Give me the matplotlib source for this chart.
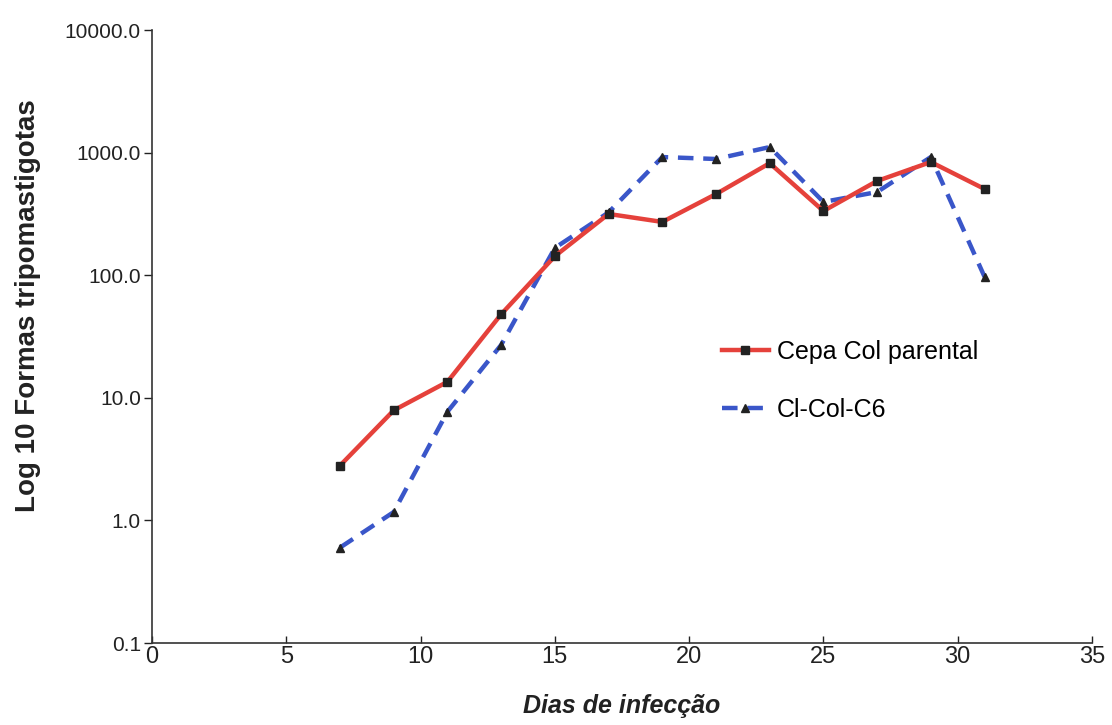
import matplotlib
matplotlib.use('Agg')
from matplotlib import pyplot as plt
from matplotlib.ticker import FixedLocator, FuncFormatter, NullLocator

dias = [7, 9, 11, 13, 15, 17, 19, 21, 23, 25, 27, 29, 31]
cepa_col = [2.8, 7.9, 13.5, 48, 143, 316, 272, 459, 820, 334, 587, 838, 505]
cl_col_c6 = [0.6, 1.17, 7.7, 27, 167, 325, 920, 887, 1110, 396, 477, 920, 97]

nomes = ['Cepa Col parental', 'Cl-Col-C6']
y_ticks = [0.1, 1, 10, 100, 1000, 10000]
x_ticks = [0, 5, 10, 15, 20, 25, 30, 35]

plt.rcParams['font.family'] = ['Liberation Sans', 'DejaVu Sans']

fig = plt.figure(figsize=(11.12, 7.25), dpi=100)
ax = fig.add_axes([0.1367, 0.1131, 0.8453, 0.8455])

ax.plot(dias, cepa_col, color='#e5413b', lw=3.2, marker='s', ms=5.5,
        mfc='#222222', mec='#222222', label=nomes[0], zorder=3)
ax.plot(dias, cl_col_c6, color='#3a56c9', lw=3.2, ls=(0, (3.5, 2.2)),
        marker='^', ms=6, mfc='#222222', mec='#222222', label=nomes[1], zorder=2)

ax.set_yscale('log')
ax.set_ylim(0.1, 10000)
ax.set_xlim(0, 35)
ax.yaxis.set_major_locator(FixedLocator(y_ticks))
ax.yaxis.set_minor_locator(NullLocator())
ax.yaxis.set_major_formatter(FuncFormatter(lambda v, p: '%.1f' % v))
ax.set_xticks(x_ticks)

for s in ['top', 'right']:
    ax.spines[s].set_visible(False)
for s in ['left', 'bottom']:
    ax.spines[s].set_color('#333333')
    ax.spines[s].set_linewidth(1.2)

ax.tick_params(axis='y', direction='out', length=6, width=1, labelsize=15,
               pad=2, colors='#222222')
ax.tick_params(axis='x', direction='in', length=5, width=1, labelsize=17,
               pad=2, colors='#222222')
for lab in ax.get_xticklabels():
    lab.set_family(['Liberation Sans Narrow', 'Liberation Sans'])

ax.set_xlabel('Dias de infecção', fontsize=18, fontweight='bold',
              style='italic', labelpad=19, color='#222222')
ax.set_ylabel('Log 10 Formas tripomastigotas', fontsize=20, fontweight='bold',
              color='#222222')
ax.yaxis.set_label_coords(-0.118, 0.551)

ax.legend(loc='upper left', bbox_to_anchor=(0.606, 0.494), frameon=False,
          fontsize=18, handlelength=1.9, labelspacing=1.35, handletextpad=0.32,
          borderpad=0, borderaxespad=0)

fig.savefig('out.png', dpi=100)
